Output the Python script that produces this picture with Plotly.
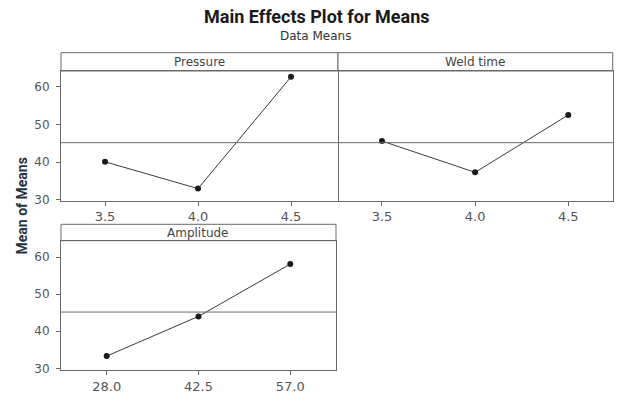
import plotly.graph_objects as go
import numpy as np

# ---- data ----
factors = ["Pressure", "Weld time", "Amplitude"]
pressure_levels = ["3.5", "4.0", "4.5"]
pressure_means = [40.1, 33.0, 62.6]
weld_levels = ["3.5", "4.0", "4.5"]
weld_means = [45.6, 37.3, 52.5]
amp_levels = ["28.0", "42.5", "57.0"]
amp_means = [33.3, 44.0, 58.1]
y_ticks = [30, 40, 50, 60]

grand_mean = float(np.mean(pressure_means + weld_means + amp_means))

W, H = 621, 396
def px(x):
    return x / W
def py(y):
    return 1 - y / H

fig = go.Figure()

# panel geometry (pixels): x0, x1, strip_top, plot_top, plot_bottom
panels = [
    dict(name=factors[0], levels=pressure_levels, vals=pressure_means,
         x0=61, x1=338, st=52.7, pt=71, pb=200.5, xr=[-0.473, 2.505], yr=[29.85, 64.15], showy=True),
    dict(name=factors[1], levels=weld_levels, vals=weld_means,
         x0=338, x1=612.7, st=52.7, pt=71, pb=200.5, xr=[-0.472, 2.477], yr=[29.85, 64.15], showy=False),
    dict(name=factors[2], levels=amp_levels, vals=amp_means,
         x0=61, x1=336, st=224.3, pt=240.7, pb=370, xr=[-0.498, 2.498], yr=[29.55, 64.4], showy=True),
]

line_col = "#6a6a6a"
tick_font = dict(family="DejaVu Sans", size=12, color="#555555")

for i, p in enumerate(panels, start=1):
    xa = "x" if i == 1 else f"x{i}"
    ya = "y" if i == 1 else f"y{i}"
    xpos = list(range(len(p["levels"])))
    fig.add_trace(go.Scatter(
        x=xpos, y=p["vals"], mode="lines+markers",
        line=dict(color="#3a3a3a", width=1),
        marker=dict(color="#1a1a1a", size=6),
        xaxis=xa, yaxis=ya, showlegend=False, hoverinfo="x+y"))
    xkey = "xaxis" if i == 1 else f"xaxis{i}"
    ykey = "yaxis" if i == 1 else f"yaxis{i}"
    fig.layout[xkey] = dict(
        domain=[px(p["x0"]), px(p["x1"])], range=p["xr"], anchor=ya,
        tickvals=xpos, ticktext=p["levels"], ticks="outside", ticklen=4,
        tickcolor=line_col, showline=True, mirror=True, linecolor=line_col,
        linewidth=1, showgrid=False, zeroline=False,
        tickfont=dict(family="DejaVu Sans", size=13, color="#555555"),
        fixedrange=True)
    if p["showy"]:
        ycfg = dict(tickvals=y_ticks, ticks="outside", ticklen=4, showticklabels=True,
                    mirror=True, side="left")
    else:
        # right-hand panel: only its right border (left border is shared)
        ycfg = dict(tickvals=[], ticks="", showticklabels=False, mirror=False, side="right")
    fig.layout[ykey] = dict(
        domain=[py(p["pb"]), py(p["pt"])], range=p["yr"], anchor=xa,
        tickcolor=line_col, showline=True, linecolor=line_col, linewidth=1,
        showgrid=False, zeroline=False, tickfont=tick_font, ticklabelstandoff=4,
        fixedrange=True, **ycfg)
    # grand mean reference line
    fig.add_shape(type="line", xref=f"{xa} domain", yref=ya, x0=0, x1=1,
                  y0=grand_mean, y1=grand_mean, line=dict(color=line_col, width=1))
    # strip
    fig.add_shape(type="rect", xref="paper", yref="paper",
                  x0=px(p["x0"]), x1=px(p["x1"]), y0=py(p["pt"]), y1=py(p["st"]),
                  line=dict(color=line_col, width=1), fillcolor="white", layer="below")
    fig.add_annotation(x=(px(p["x0"]) + px(p["x1"])) / 2, y=(py(p["pt"]) + py(p["st"])) / 2,
                       xref="paper", yref="paper", text=p["name"], showarrow=False,
                       xanchor="center", yanchor="middle",
                       font=dict(family="DejaVu Sans", size=12, color="#444444"))

# titles
fig.add_annotation(x=px(316), y=py(16), xref="paper", yref="paper",
                   text="<b>Main Effects Plot for Means</b>", showarrow=False,
                   xanchor="center", yanchor="middle",
                   font=dict(family="Roboto", size=18, color="#1a1a1a"))
fig.add_annotation(x=px(315), y=py(35.5), xref="paper", yref="paper",
                   text="Data Means", showarrow=False, xanchor="center", yanchor="middle",
                   font=dict(family="DejaVu Sans", size=12, color="#333333"))
fig.add_annotation(x=px(21.5), y=py(206), xref="paper", yref="paper",
                   text="<b>Mean of Means</b>", showarrow=False, textangle=-90,
                   xanchor="center", yanchor="middle",
                   font=dict(family="Roboto", size=14, color="#1f3340"))

fig.update_layout(width=W, height=H, margin=dict(l=0, r=0, t=0, b=0, autoexpand=False),
                  paper_bgcolor="white", plot_bgcolor="white")

fig.write_html("out.html", config={"displayModeBar": False},
               post_script="document.body.style.margin='0px';document.body.style.overflow='hidden';")
